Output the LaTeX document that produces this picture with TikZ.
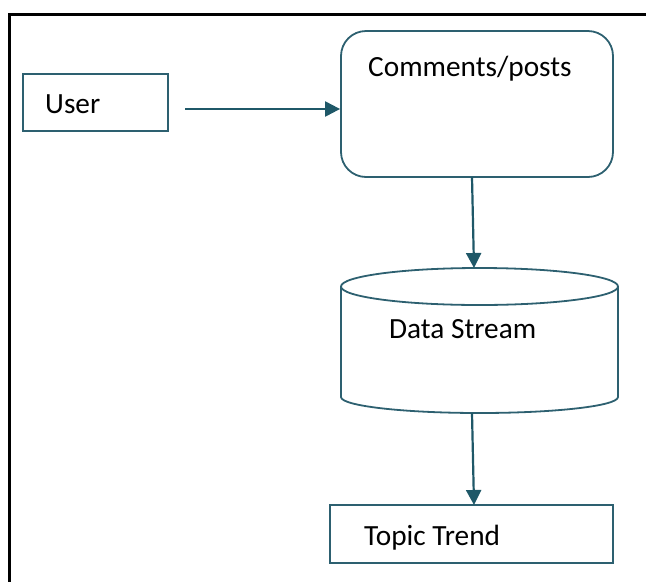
\documentclass[tikz,border=0pt]{standalone}
\usepackage{fontspec}
\setmainfont{Carlito}
\usetikzlibrary{arrows.meta}
\definecolor{teal1}{RGB}{45,96,112}
\definecolor{teal2}{RGB}{31,88,104}
\begin{document}
\begin{tikzpicture}[x=1pt,y=-1pt,
  box/.style={draw=teal1,line width=1.8pt,inner sep=0pt},
  lbl/.style={anchor=base west,inner sep=0pt,font=\fontsize{29.3}{31}\selectfont},
  conn/.style={draw=teal2,line width=2.2pt,-{Triangle[length=15pt,width=15pt]}}]
\useasboundingbox (0,0) rectangle (646,582);
% outer frame (only top and left visible)
\draw[line width=3pt,black] (646,14) -- (9,14) -- (9,582);
% nodes
\node[box,minimum width=145pt,minimum height=57pt] (user) at (95.5,102.5) {};
\node[box,rounded corners=25pt,minimum width=272pt,minimum height=146pt] (comments) at (477,104) {};
\node[box,minimum width=283pt,minimum height=58pt] (topic) at (471.5,534) {};
% cylinder
\coordinate (cyltop) at (474,268);
\coordinate (cylbot) at (472,413);
\draw[teal1,line width=1.8pt] (479.5,286.5) ellipse [x radius=138.5, y radius=18.5];
\draw[teal1,line width=1.8pt] (341,286.5) -- (341,397) arc[start angle=180,end angle=360,x radius=138.5,y radius=-16] -- (618,286.5);
% labels
\node[lbl] (userlbl) at (45,113) {User};
\node[lbl] (commentslbl) at (368,76) {Comments/posts};
\node[lbl] (datalbl) at (389,338) {Data Stream};
\node[lbl] (topiclbl) at (364,545) {Topic Trend};
% connectors
\coordinate (a1) at (185,109);
\draw[conn] (a1) -- (comments.west |- a1);
\coordinate (a2) at (472,177);
\draw[conn] (a2) -- (cyltop);
\coordinate (a3) at (474,505);
\draw[conn] (cylbot) -- (a3);
\end{tikzpicture}
\end{document}
